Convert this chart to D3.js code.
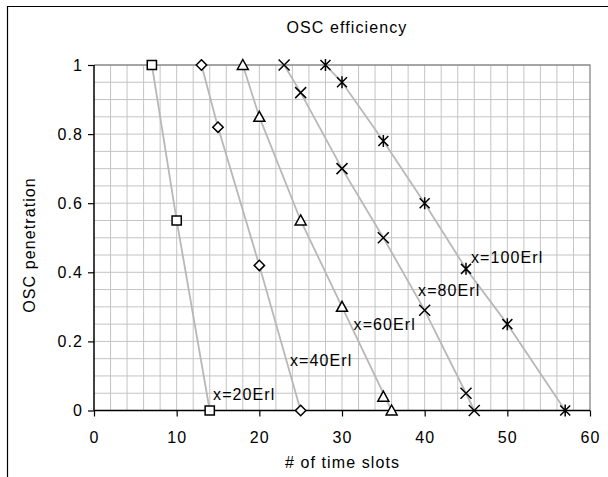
<!DOCTYPE html>
<html>
<head>
<meta charset="utf-8">
<script src="https://cdn.jsdelivr.net/npm/d3@7"></script>
<style>
  html, body { margin: 0; padding: 0; background: #fff; }
  text { font-family: "Liberation Sans", Arial, sans-serif; fill: #000; }
</style>
</head>
<body>
<svg id="chart" width="608" height="477"></svg>
<script>
// ---- data ----
const seriesNames = ["x=20Erl", "x=40Erl", "x=60Erl", "x=80Erl", "x=100Erl"];
const markerTypes = ["square", "diamond", "triangle", "cross", "star"];
const slots20 = [7, 10, 14];
const pen20 = [1, 0.55, 0];
const slots40 = [13, 15, 20, 25];
const pen40 = [1, 0.82, 0.42, 0];
const slots60 = [18, 20, 25, 30, 35, 36];
const pen60 = [1, 0.85, 0.55, 0.3, 0.04, 0];
const slots80 = [23, 25, 30, 35, 40, 45, 46];
const pen80 = [1, 0.92, 0.7, 0.5, 0.29, 0.05, 0];
const slots100 = [28, 30, 35, 40, 45, 50, 57];
const pen100 = [1, 0.95, 0.78, 0.6, 0.41, 0.25, 0];
// curve (grey line) points: same as markers except 60Erl line skips (35,0.04)
const lineSlots60 = [18, 20, 25, 30, 36];
const linePen60 = [1, 0.85, 0.55, 0.3, 0];
// data-label anchor points (in data units)
const labelSlots = [14.4, 23.7, 31.4, 39.2, 45.6];
const labelPen = [0.031, 0.13, 0.232, 0.33, 0.427];
const xTicks = [0, 10, 20, 30, 40, 50, 60];
const yTicks = [0, 0.2, 0.4, 0.6, 0.8, 1];

const zip = (a, b) => a.map((v, i) => [v, b[i]]);
const markerData = [zip(slots20, pen20), zip(slots40, pen40), zip(slots60, pen60), zip(slots80, pen80), zip(slots100, pen100)];
const lineData = [zip(slots20, pen20), zip(slots40, pen40), zip(lineSlots60, linePen60), zip(slots80, pen80), zip(slots100, pen100)];

// ---- layout ----
const svg = d3.select("#chart");
const L = 94, R = 590, T = 65, B = 410.5;
const x = d3.scaleLinear().domain([0, 60]).range([L, R]);
const y = d3.scaleLinear().domain([0, 1]).range([B, T]);
const FS = 16, LS = 1.1;

// outer frame
svg.append("path").attr("d", `M7.5,${477}V6.5H608`).attr("fill", "none").attr("stroke", "#000").attr("stroke-width", 1.2);

// grid
const gx = d3.range(2, 60, 2), gy = d3.range(1, 20).map(d => d * 0.05);
svg.append("g").selectAll("line").data(gx).join("line")
  .attr("x1", d => x(d)).attr("x2", d => x(d)).attr("y1", T).attr("y2", B)
  .attr("stroke", "#c4c4c4").attr("stroke-width", 1);
svg.append("g").selectAll("line").data(gy).join("line")
  .attr("y1", d => y(d)).attr("y2", d => y(d)).attr("x1", L).attr("x2", R)
  .attr("stroke", "#c4c4c4").attr("stroke-width", 1);
// plot border top/right
svg.append("path").attr("d", `M${L},${T}H${R}V${B}`).attr("fill", "none").attr("stroke", "#888").attr("stroke-width", 1.3);

// axes
const xAxis = d3.axisBottom(x).tickValues(xTicks).tickSize(6).tickPadding(6).tickFormat(d3.format("d"));
const yAxis = d3.axisLeft(y).tickValues(yTicks).tickSize(6).tickPadding(5).tickFormat(d => d === 0 || d === 1 ? String(d) : d3.format(".1f")(d));
const gxa = svg.append("g").attr("transform", `translate(0,${B})`).call(xAxis);
const gya = svg.append("g").attr("transform", `translate(${L},0)`).call(yAxis);
[gxa, gya].forEach(g => {
  g.select(".domain").attr("stroke", "#000").attr("stroke-width", 1.5);
  g.selectAll(".tick line").attr("stroke", "#000").attr("stroke-width", 1.2);
  g.selectAll(".tick text").attr("font-size", FS).attr("letter-spacing", LS).attr("font-family", "Liberation Sans, Arial, sans-serif");
});
gxa.select(".domain").attr("d", `M${L},0H${R}`);
gya.select(".domain").attr("d", `M0,${B}V${T}`);
gxa.selectAll(".tick text").attr("y", 21);

// lines
const line = d3.line().x(d => x(d[0])).y(d => y(d[1]));
svg.append("g").selectAll("path").data(lineData).join("path")
  .attr("d", line).attr("fill", "none").attr("stroke", "#b8b8b8").attr("stroke-width", 1.8);

// markers
function markerPath(type) {
  const s = 4.6;
  switch (type) {
    case "square": return `M${-s},${-s}H${s}V${s}H${-s}Z`;
    case "diamond": return `M0,${-5.2}L5.2,0L0,5.2L-5.2,0Z`;
    case "triangle": return `M0,-5.5L5.5,4.5H-5.5Z`;
    case "cross": return `M-5.5,-5.5L5.5,5.5M-5.5,5.5L5.5,-5.5`;
    case "star": return `M-5,-5L5,5M-5,5L5,-5M0,-6V6`;
  }
}
markerData.forEach((pts, i) => {
  const t = markerTypes[i];
  svg.append("g").selectAll("path").data(pts).join("path")
    .attr("transform", d => `translate(${x(d[0])},${y(d[1])})`)
    .attr("d", markerPath(t))
    .attr("fill", (t === "cross" || t === "star") ? "none" : "#fff")
    .attr("stroke", "#000").attr("stroke-width", 1.5);
});

// data labels
svg.append("g").selectAll("text").data(seriesNames).join("text")
  .attr("x", (d, i) => x(labelSlots[i])).attr("y", (d, i) => y(labelPen[i]))
  .attr("font-size", FS).attr("letter-spacing", LS).text(d => d);

// title and axis titles
svg.append("text").attr("x", 347).attr("y", 32.5).attr("text-anchor", "middle")
  .attr("font-size", FS).attr("letter-spacing", LS).text("OSC efficiency");
svg.append("text").attr("x", 342.5).attr("y", 467.5).attr("text-anchor", "middle")
  .attr("font-size", FS).attr("letter-spacing", LS).text("# of time slots");
svg.append("text").attr("transform", "translate(34.5,245) rotate(-90)").attr("text-anchor", "middle")
  .attr("font-size", FS).attr("letter-spacing", LS).text("OSC penetration");
</script>
</body>
</html>
